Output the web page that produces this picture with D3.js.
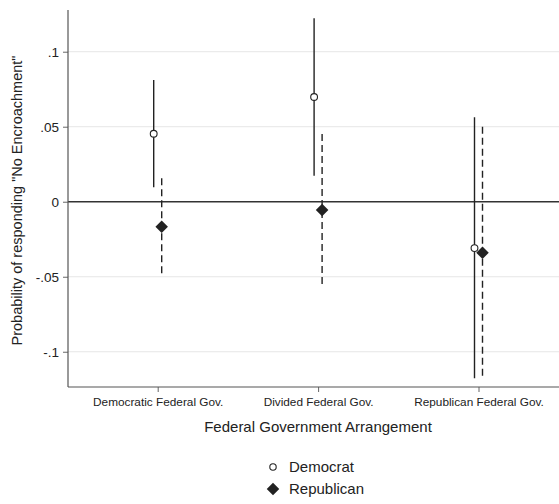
<!DOCTYPE html>
<html>
<head>
<meta charset="utf-8">
<script src="https://cdn.jsdelivr.net/npm/d3@7"></script>
<style>
  html, body { margin: 0; padding: 0; background: #fff; }
  svg { display: block; font-family: "Liberation Sans", Arial, sans-serif; }
</style>
</head>
<body>
<svg id="chart" width="559" height="504"></svg>
<script>
// Government arrangements on the x axis
const categories = ["Democratic Federal Gov.", "Divided Federal Gov.", "Republican Federal Gov."];
const parties = ["Democrat", "Republican"];

// Point estimates and 95% intervals, one entry per category
const demEstimate = [0.0453, 0.0698, -0.0309];
const demLower    = [0.0096, 0.0173, -0.1177];
const demUpper    = [0.0811, 0.1223, 0.0563];

const repEstimate = [-0.0167, -0.0055, -0.0340];
const repLower    = [-0.0493, -0.0560, -0.1177];
const repUpper    = [0.0156, 0.0451, 0.0500];

const yTicks = [0.1, 0.05, 0, -0.05, -0.1];
const yTickLabels = [".1", ".05", "0", "-.05", "-.1"];

(function draw() {
  const svg = d3.select("#chart");
  const plotLeft = 68, plotRight = 559, plotTop = 10, plotBottom = 387;

  const x = d3.scalePoint().domain(categories).range([157.7, 478.5]);
  const y = d3.scaleLinear().domain([-0.1235, 0.1278]).range([plotBottom, plotTop]);

  // Gridlines
  svg.append("g").selectAll("line").data(yTicks.filter(d => d !== 0)).join("line")
    .attr("x1", plotLeft).attr("x2", plotRight)
    .attr("y1", d => y(d)).attr("y2", d => y(d))
    .attr("stroke", "#e6e6e6").attr("stroke-width", 1);

  // Reference line at zero
  svg.append("line")
    .attr("x1", plotLeft).attr("x2", plotRight)
    .attr("y1", y(0)).attr("y2", y(0))
    .attr("stroke", "#333").attr("stroke-width", 1.3);

  // Y axis
  const yAxis = d3.axisLeft(y).tickValues(yTicks)
    .tickFormat((d, i) => yTickLabels[i]).tickSize(5).tickPadding(4);
  const gy = svg.append("g").attr("transform", `translate(${plotLeft},0)`).call(yAxis);
  gy.select(".domain").remove();
  gy.selectAll(".tick line").attr("stroke", "#666");
  gy.selectAll(".tick text").attr("font-size", 13.5).attr("fill", "#222")
    .attr("font-family", "Liberation Sans, Arial, sans-serif");
  svg.append("line").attr("x1", plotLeft).attr("x2", plotLeft).attr("y1", plotTop).attr("y2", plotBottom)
    .attr("stroke", "#555").attr("stroke-width", 1.2);

  // X axis
  const xAxis = d3.axisBottom(x).tickSize(5).tickPadding(6);
  const gx = svg.append("g").attr("transform", `translate(0,${plotBottom})`).call(xAxis);
  gx.select(".domain").remove();
  gx.selectAll(".tick line").attr("stroke", "#666");
  gx.selectAll(".tick text").attr("font-size", 11.8).attr("fill", "#222")
    .attr("font-family", "Liberation Sans, Arial, sans-serif");
  svg.append("line").attr("x1", plotLeft).attr("x2", plotRight).attr("y1", plotBottom).attr("y2", plotBottom)
    .attr("stroke", "#555").attr("stroke-width", 1.2);

  // Axis titles
  svg.append("text").attr("x", 318).attr("y", 432).attr("text-anchor", "middle")
    .attr("font-size", 15).attr("fill", "#222").text("Federal Government Arrangement");
  svg.append("text").attr("transform", `translate(22,${(plotTop + plotBottom) / 2 + 2}) rotate(-90)`)
    .attr("text-anchor", "middle").attr("font-size", 14.5).attr("fill", "#222")
    .text('Probability of responding "No Encroachment"');

  const offset = 4;
  const demRows = categories.map((c, i) => ({ c, est: demEstimate[i], lo: demLower[i], hi: demUpper[i] }));
  const repRows = categories.map((c, i) => ({ c, est: repEstimate[i], lo: repLower[i], hi: repUpper[i] }));

  // Democrat intervals (solid) and hollow circles
  svg.append("g").selectAll("line").data(demRows).join("line")
    .attr("x1", d => x(d.c) - offset).attr("x2", d => x(d.c) - offset)
    .attr("y1", d => y(d.lo)).attr("y2", d => y(d.hi))
    .attr("stroke", "#222").attr("stroke-width", 1.4);
  svg.append("g").selectAll("circle").data(demRows).join("circle")
    .attr("cx", d => x(d.c) - offset).attr("cy", d => y(d.est)).attr("r", 3.4)
    .attr("fill", "#fff").attr("stroke", "#222").attr("stroke-width", 1.1);

  // Republican intervals (dashed) and filled diamonds
  svg.append("g").selectAll("line").data(repRows).join("line")
    .attr("x1", d => x(d.c) + offset).attr("x2", d => x(d.c) + offset)
    .attr("y1", d => y(d.hi)).attr("y2", d => y(d.lo))
    .attr("stroke", "#222").attr("stroke-width", 1.4).attr("stroke-dasharray", "7,4");
  const diamond = d3.symbol().type(d3.symbolDiamond2).size(100);
  svg.append("g").selectAll("path").data(repRows).join("path")
    .attr("transform", d => `translate(${x(d.c) + offset},${y(d.est)})`)
    .attr("d", diamond).attr("fill", "#222");

  // Legend
  const legend = svg.append("g");
  legend.append("circle").attr("cx", 273).attr("cy", 467).attr("r", 3.2)
    .attr("fill", "#fff").attr("stroke", "#222").attr("stroke-width", 1.1);
  legend.append("path").attr("transform", "translate(273,489)")
    .attr("d", diamond).attr("fill", "#222");
  legend.selectAll("text").data(parties).join("text")
    .attr("x", 289).attr("y", (d, i) => 472 + i * 22)
    .attr("font-size", 15).attr("fill", "#222").text(d => d);
})();
</script>
</body>
</html>
